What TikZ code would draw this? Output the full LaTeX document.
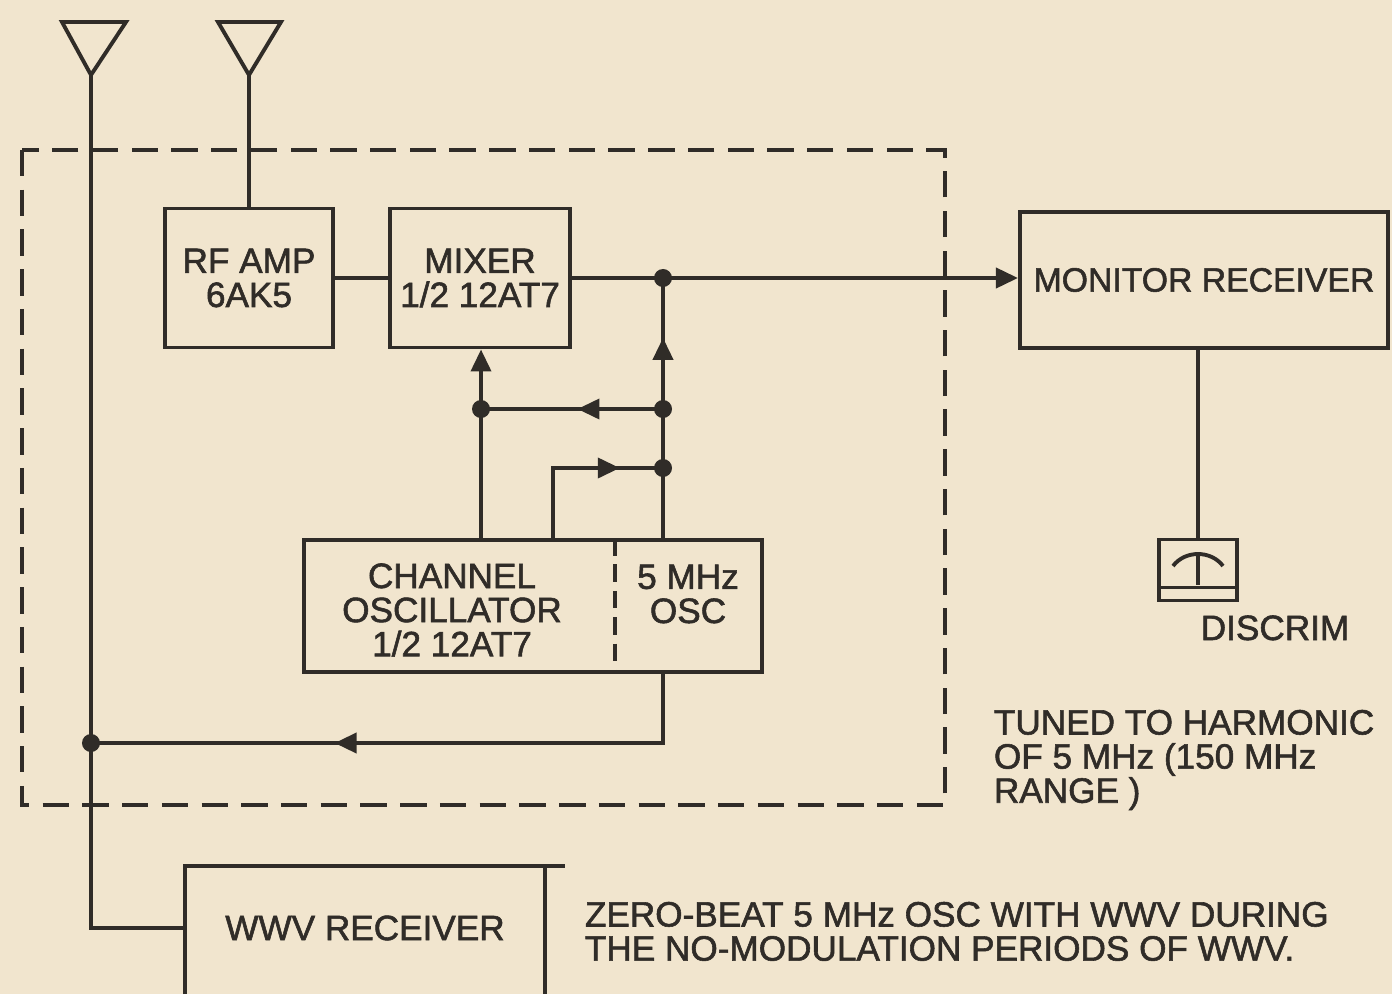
\documentclass[tikz,border=0pt]{standalone}
\usepackage{fontspec}
\setmainfont{Liberation Sans}[FakeBold=1.6]
\usetikzlibrary{arrows.meta,decorations.markings}
\definecolor{paper}{RGB}{241,229,206}
\definecolor{ink}{RGB}{48,44,40}
\begin{document}
\begin{tikzpicture}[x=0.01cm,y=-0.01cm,color=ink,line width=1.1pt,
		font=\fontsize{10}{9.7}\selectfont,
		>={Triangle[length=0.22cm,width=0.2cm]},
		blk/.style={draw,align=center,inner sep=0pt},
		note/.style={align=left,inner sep=0pt,anchor=north west},
		dot/.style={circle,fill=ink,inner sep=0pt,minimum size=0.18cm},
		flow/.style={postaction={decorate},decoration={markings,
					mark=at position #1 with {\arrow{>}}}},
		frame/.style={dash pattern=on 7.5pt off 3.8pt}]
	\path[use as bounding box,fill=paper] (0,0) rectangle (1392,994);

	% antennas
	\coordinate (ant1) at (91,75);
	\coordinate (ant2) at (249,75);
	\draw[line join=miter] (62,22) -- (126,22) -- (ant1) -- cycle;
	\draw[line join=miter] (218,22) -- (281,22) -- (ant2) -- cycle;

	\draw[frame] (22,150) rectangle (945,805);

	\node[blk,minimum width=1.68cm,minimum height=1.39cm] (rf) at (249,278) {RF AMP\\6AK5};
	\node[blk,minimum width=1.80cm,minimum height=1.39cm] (mix) at (480,278) {MIXER\\1/2 12AT7};
	\node[blk,minimum width=3.68cm,minimum height=1.36cm,font=\fontsize{9.6}{9.7}\selectfont] (mon) at (1204,280) {MONITOR RECEIVER};
	\node[blk,minimum width=4.57cm,minimum height=1.32cm] (osc) at (533,606) {};
	\node[align=center,inner sep=0pt] (chan) at (452,610) {CHANNEL\\OSCILLATOR\\1/2 12AT7};
	\node[align=center,inner sep=0pt] (five) at (688,594) {5 MHz\\OSC};
	\coordinate (dv) at (615,0);
	\draw[dash pattern=on 5pt off 2.5pt] (osc.north -| dv) -- (osc.south -| dv);
	\node[blk,minimum width=0.78cm,minimum height=0.61cm] (disc) at (1198,570) {};
	\node[anchor=base,inner sep=0pt] (disclbl) at (1275,640) {DISCRIM};
	\node[inner sep=0pt,minimum width=3.6cm] (wwv) at (365,928) {WWV RECEIVER};

	% junctions
	\node[dot] (j1) at (663,278) {};
	\node[dot] (j2) at (663,409) {};
	\node[dot] (j3) at (663,468) {};
	\node[dot] (j4) at (481,409) {};
	\node[dot] (j5) at (91,743) {};
	\coordinate (k) at (553,468);

	% signal path
	\draw (ant2) -- (rf.north);
	\draw (rf.east) -- (mix.west);
	\draw[->] (mix.east) -- (mon.west |- mix.east);
	\draw[flow=0.77] (osc.north -| j1) -- (j1.center);
	\draw[flow=0.47] (j2.center) -- (j4.center);
	\draw[->] (osc.north -| j4) -- (mix.south -| j4);
	\draw[flow=0.76] (osc.north -| k) -- (k) -- (j3.center);
	\draw[flow=0.62] (osc.south -| j1) |- (j5.center);
	\draw (ant1) |- (wwv.west);

	% wwv receiver, cut by the page edge
	\draw (185,994) |- (565,866);
	\draw (545,866) -- (545,994);

	% meter
	\draw (mon.south -| disc.north) -- (disc.north);
	\draw ([yshift=0.15cm]disc.south west) -- ([yshift=0.15cm]disc.south east);
	\draw (1173,566) .. controls (1185,550) and (1211,550) .. (1223,566);
	\draw (1198,554) -- (1198,585);

	\node[note] (tuned) at (992,708) {TUNED TO HARMONIC\\OF 5 MHz (150 MHz\\RANGE )};
	\node[note] (zero) at (583,900) {ZERO-BEAT 5 MHz OSC WITH WWV DURING\\THE NO-MODULATION PERIODS OF WWV.};
\end{tikzpicture}
\end{document}
